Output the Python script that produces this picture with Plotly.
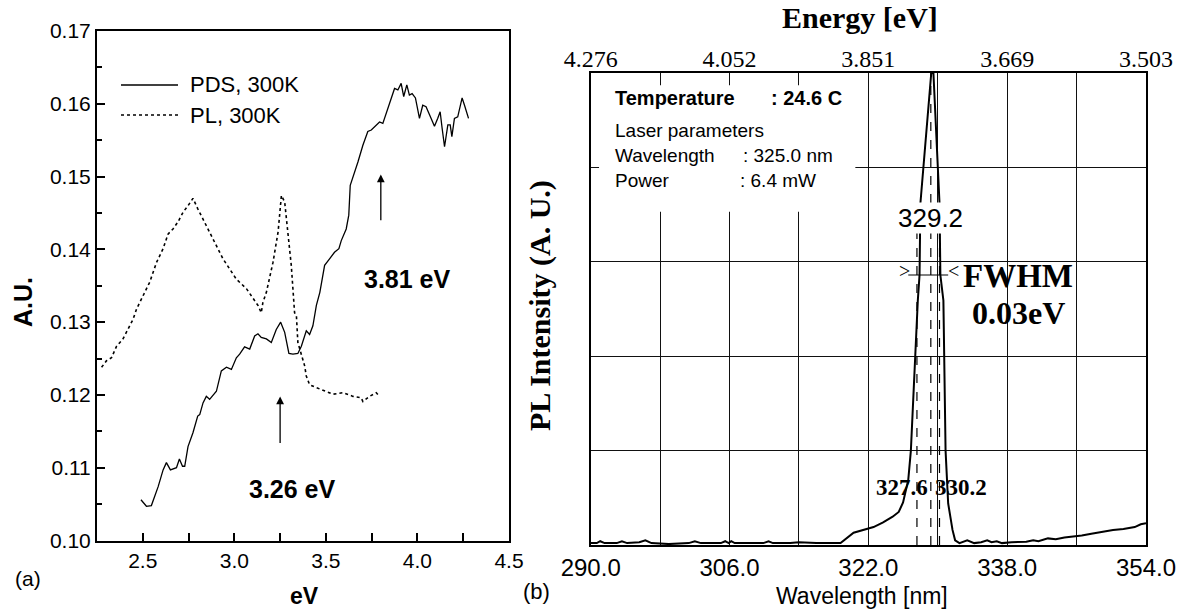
import plotly.graph_objects as go

# ---------------- Panel (a) data ----------------
pds_ev = [2.49, 2.52, 2.547, 2.584, 2.611, 2.629, 2.651, 2.684, 2.70, 2.717, 2.729, 2.747, 2.774,
          2.80, 2.811, 2.829, 2.847, 2.865, 2.902, 2.929, 2.957, 2.984, 3.011, 3.029, 3.056, 3.084,
          3.111, 3.129, 3.147, 3.175, 3.202, 3.229, 3.253, 3.275, 3.298, 3.320, 3.347, 3.366, 3.393,
          3.411, 3.429, 3.448, 3.467, 3.493, 3.520, 3.547, 3.571, 3.584, 3.611, 3.625, 3.633, 3.657,
          3.675, 3.702, 3.729, 3.748, 3.775, 3.793, 3.811, 3.829, 3.857, 3.875, 3.893, 3.911, 3.925,
          3.942, 3.956, 3.971, 3.989, 4.011, 4.029, 4.047, 4.066, 4.093, 4.111, 4.124, 4.135, 4.148,
          4.166, 4.179, 4.188, 4.202, 4.22, 4.244, 4.257, 4.279]
pds_au = [0.1056, 0.1047, 0.1048, 0.1074, 0.1097, 0.1107, 0.1097, 0.1100, 0.1112, 0.1102, 0.1102,
          0.1129, 0.1148, 0.1171, 0.1173, 0.1189, 0.1198, 0.1194, 0.1205, 0.1233, 0.1238, 0.1235,
          0.1251, 0.1256, 0.1266, 0.1263, 0.1281, 0.1284, 0.1279, 0.1277, 0.1272, 0.1290, 0.1300,
          0.1286, 0.1257, 0.1256, 0.1257, 0.1267, 0.1288, 0.1283, 0.1295, 0.1323, 0.1341, 0.1378,
          0.1387, 0.1396, 0.1401, 0.1412, 0.1428, 0.1447, 0.1488, 0.1506, 0.1520, 0.1543, 0.1562,
          0.1564, 0.1571, 0.1575, 0.1573, 0.1587, 0.1608, 0.1621, 0.1619, 0.1628, 0.1610, 0.1626,
          0.1612, 0.1614, 0.1608, 0.1580, 0.1598, 0.1596, 0.1585, 0.1569, 0.1580, 0.1589, 0.1566,
          0.1541, 0.1571, 0.1571, 0.1555, 0.1580, 0.1582, 0.1608, 0.1598, 0.1580]

pl_ev = [2.275, 2.302, 2.329, 2.357, 2.392, 2.42, 2.447, 2.466, 2.502, 2.538, 2.575, 2.611, 2.638,
         2.665, 2.693, 2.72, 2.747, 2.774, 2.80, 2.829, 2.865, 2.902, 2.938, 2.975, 3.011, 3.066,
         3.102, 3.129, 3.147, 3.156, 3.175, 3.211, 3.239, 3.257, 3.275, 3.293, 3.311, 3.329, 3.339,
         3.347, 3.366, 3.384, 3.393, 3.411, 3.448, 3.493, 3.539, 3.593, 3.648, 3.693, 3.702, 3.738,
         3.775, 3.793]
pl_au = [0.1238, 0.1247, 0.1251, 0.1267, 0.1277, 0.1290, 0.1304, 0.1318, 0.1336, 0.1355, 0.1382,
         0.1401, 0.1421, 0.1428, 0.1438, 0.1451, 0.1460, 0.1470, 0.1456, 0.1442, 0.1424, 0.1405,
         0.1387, 0.1373, 0.1359, 0.1346, 0.1332, 0.1323, 0.1313, 0.1327, 0.1341, 0.1382, 0.1424,
         0.1474, 0.1465, 0.1424, 0.1378, 0.1313, 0.1309, 0.1272, 0.1254, 0.1240, 0.1226, 0.1214,
         0.1210, 0.1205, 0.1201, 0.1203, 0.1198, 0.1196, 0.1191, 0.1198, 0.1203, 0.1198]

a_xrange = [2.25, 4.5]
a_yrange = [0.10, 0.17]
a_xticks = [2.5, 3.0, 3.5, 4.0, 4.5]
a_xminor = [2.75, 3.25, 3.75, 4.25]
a_yticks = [0.10, 0.11, 0.12, 0.13, 0.14, 0.15, 0.16, 0.17]
a_yminor = [0.105, 0.115, 0.125, 0.135, 0.145, 0.155, 0.165]

# ---------------- Panel (b) data ----------------
wl_nm = [290.0, 290.7, 291.1, 291.6, 293.0, 293.6, 294.2, 295.6, 296.3, 297.0, 299.0, 301.3, 302.0,
         302.7, 305.0, 305.5, 305.9, 306.2, 306.6, 309.9, 310.5, 311.0, 313.0, 314.0, 316.0, 318.0,
         318.8, 320.3, 321.9, 322.6, 323.7, 324.8, 325.5, 325.9, 326.0, 326.6, 326.9, 327.7, 327.9,
         328.0, 329.25, 329.5, 330.2, 330.3, 330.65, 330.9, 331.2, 331.7, 332.0, 332.5, 333.4, 334.2,
         335.0, 335.7, 336.2, 336.8, 337.4, 338.5, 339.3, 340.2, 341.0, 341.6, 342.7, 343.6, 344.6,
         345.7, 346.6, 347.7, 348.8, 350.2, 351.4, 352.7, 353.4, 354.0]
pl_int = [0.02, 0.02, 0.04, 0.02, 0.02, 0.04, 0.02, 0.03, 0.05, 0.02, 0.01, 0.02, 0.04,
          0.02, 0.02, 0.04, 0.02, 0.04, 0.02, 0.02, 0.04, 0.02, 0.02, 0.03, 0.02, 0.02,
          0.02, 0.13, 0.17, 0.19, 0.24, 0.30, 0.35, 0.44, 0.45, 0.69, 1.0, 2.59, 2.86,
          3.62, 5.0, 5.0, 3.62, 2.86, 2.59, 1.0, 0.44, 0.16, 0.05, 0.02, 0.05, 0.02,
          0.03, 0.05, 0.03, 0.04, 0.02, 0.03, 0.03, 0.035, 0.05, 0.04, 0.07, 0.06, 0.08,
          0.09, 0.10, 0.12, 0.14, 0.16, 0.17, 0.19, 0.22, 0.23]

b_xticks = [290, 306, 322, 338, 354]
b_xticktext = ["290.0", "306.0", "322.0", "338.0", "354.0"]
energy_ticktext = ["4.276", "4.052", "3.851", "3.669", "3.503"]
fwhm_marks = [327.6, 329.2, 330.2]
peak_nm = 329.2

SERIF = "Liberation Serif, Times New Roman, serif"
SANS = "Liberation Sans, Arial, sans-serif"

W, H = 1190, 611


def px(x):
    return x / W


def py(y):
    return (H - y) / H


A_X0, A_X1, A_Y0, A_Y1 = 97, 509, 540.5, 31   # panel (a) plot area in pixels
a_xdom = [px(A_X0), px(A_X1)]
a_ydom = [py(A_Y0), py(A_Y1)]

fig = go.Figure()

fig.add_trace(go.Scatter(x=pds_ev, y=pds_au, mode="lines", name="PDS, 300K",
                         line=dict(color="black", width=1.3), xaxis="x", yaxis="y",
                         showlegend=False))
fig.add_trace(go.Scatter(x=pl_ev, y=pl_au, mode="lines", name="PL, 300K",
                         line=dict(color="black", width=1.6, dash="dot"), xaxis="x", yaxis="y",
                         showlegend=False))
fig.add_trace(go.Scatter(x=wl_nm, y=pl_int, mode="lines", name="PL",
                         line=dict(color="black", width=2), xaxis="x2", yaxis="y2",
                         showlegend=False))
# same spectrum attached to the energy (top) axis so that axis is drawn
fig.add_trace(go.Scatter(x=wl_nm, y=pl_int, mode="lines", name="PL (energy axis)",
                         line=dict(color="rgba(0,0,0,0)", width=0), xaxis="x3", yaxis="y2",
                         showlegend=False, hoverinfo="skip"))

GRID = "#111111"

fig.update_layout(
    template="none",
    width=W, height=H, margin=dict(l=0, r=0, t=0, b=0, autoexpand=False),
    paper_bgcolor="white", plot_bgcolor="white", showlegend=False,
    xaxis=dict(domain=a_xdom, range=a_xrange, tickvals=a_xticks,
               ticktext=["%.1f" % v for v in a_xticks],
               ticks="inside", ticklen=8, tickwidth=1.5, tickcolor="black",
               minor=dict(tickvals=a_xminor, ticks="inside", ticklen=8, tickwidth=1.5,
                          tickcolor="black"),
               showline=True, linecolor="black", linewidth=2, mirror=True,
               showgrid=False, zeroline=False, automargin=False,
               tickfont=dict(family=SANS, size=21, color="black"), anchor="y"),
    yaxis=dict(domain=a_ydom, range=a_yrange, tickvals=a_yticks,
               ticktext=["%.2f" % v for v in a_yticks],
               ticks="inside", ticklen=8, tickwidth=1.5, tickcolor="black",
               minor=dict(tickvals=a_yminor, ticks="inside", ticklen=5, tickwidth=1.5,
                          tickcolor="black"),
               showline=True, linecolor="black", linewidth=2, mirror=True,
               showgrid=False, zeroline=False, automargin=False,
               tickfont=dict(family=SANS, size=21, color="black"), anchor="x"),
    xaxis2=dict(domain=[px(590.7), px(1146)], range=[290, 354], tickvals=b_xticks,
                ticktext=b_xticktext, ticks="", showgrid=True, gridcolor=GRID, gridwidth=1.2,
                minor=dict(dtick=8, tick0=290, showgrid=True, gridcolor=GRID, gridwidth=1.2),
                showline=True, linecolor="black", linewidth=1.8, mirror=True, zeroline=False,
                automargin=False,
                tickfont=dict(family=SANS, size=24, color="black"), anchor="y2"),
    yaxis2=dict(domain=[py(545), py(73)], range=[0, 5], dtick=1, showticklabels=False,
                ticks="", showgrid=True, gridcolor=GRID, gridwidth=1.2,
                showline=True, linecolor="black", linewidth=1.8, mirror=True, zeroline=False,
                automargin=False, anchor="x2"),
    xaxis3=dict(overlaying="x2", side="top", range=[290, 354], tickvals=b_xticks,
                ticktext=energy_ticktext, ticks="", showgrid=False, showline=False,
                zeroline=False, anchor="y2", automargin=False,
                tickfont=dict(family=SERIF, size=24, color="black")),
)

shapes = []
# white info box hiding grid lines behind the parameter text
shapes.append(dict(type="rect", xref="x2", yref="y2", x0=290.96, x1=320.5, y0=3.53, y1=4.87,
                   fillcolor="white", line=dict(width=0), layer="above"))
# FWHM dashed markers
for m in fwhm_marks:
    top = 5.0 if m == peak_nm else 3.4
    shapes.append(dict(type="line", xref="x2", yref="y2", x0=m, x1=m, y0=0, y1=top,
                       line=dict(color="black", width=1.2, dash="dash"), layer="above"))
# FWHM horizontal bar
shapes.append(dict(type="line", xref="x2", yref="y2", x0=326.6, x1=331.2, y0=2.86, y1=2.86,
                   line=dict(color="black", width=1.2), layer="above"))
# legend samples for panel (a)
shapes.append(dict(type="line", xref="paper", yref="paper", x0=px(121), x1=px(178),
                   y0=py(85), y1=py(85), line=dict(color="black", width=1.3)))
shapes.append(dict(type="line", xref="paper", yref="paper", x0=px(121), x1=px(178),
                   y0=py(115), y1=py(115), line=dict(color="black", width=1.6, dash="dot")))
fig.update_layout(shapes=shapes)

ann = []


def text(x, y, s, size, family=SANS, bold=False, xref="paper", yref="paper",
         xanchor="center", yanchor="middle", angle=0, bg=None):
    d = dict(x=x, y=y, xref=xref, yref=yref, text=("<b>%s</b>" % s) if bold else s,
             showarrow=False, xanchor=xanchor, yanchor=yanchor, textangle=angle,
             font=dict(family=family, size=size, color="black"))
    if bg:
        d["bgcolor"] = bg
        d["borderpad"] = 0
    ann.append(d)


# Panel (a)
text(px(188), py(85), "PDS, 300K", 22, xanchor="left")
text(px(188), py(115), "PL, 300K", 22, xanchor="left")
text(3.943, 0.1359, "3.81 eV", 25, bold=True, xref="x", yref="y")
text(3.316, 0.1071, "3.26 eV", 25, bold=True, xref="x", yref="y")
ann.append(dict(x=3.80, y=0.1503, ax=3.80, ay=0.1438, xref="x", yref="y", axref="x", ayref="y",
                text="", showarrow=True, arrowhead=2, arrowsize=1.2, arrowwidth=1.3,
                arrowcolor="black"))
ann.append(dict(x=3.25, y=0.1198, ax=3.25, ay=0.1132, xref="x", yref="y", axref="x", ayref="y",
                text="", showarrow=True, arrowhead=2, arrowsize=1.2, arrowwidth=1.3,
                arrowcolor="black"))
text(px(23), py(302), "A.U.", 25, bold=True, angle=-90)
text(px(304), py(611), "eV", 23, bold=True, yanchor="bottom")
text(px(28), py(578), "(a)", 21)

# Panel (b)
text(px(860), py(18), "Energy [eV]", 30, family=SERIF, bold=True)
text(px(540), py(306), "PL Intensity (A. U.)", 30, family=SERIF, bold=True, angle=-90)
text(px(862), py(611), "Wavelength [nm]", 23, yanchor="bottom")
text(px(536), py(591), "(b)", 22)

text(292.57, 4.735, "Temperature", 20, bold=True, xref="x2", yref="y2", xanchor="left")
text(310.57, 4.735, ": 24.6 C", 20, bold=True, xref="x2", yref="y2", xanchor="left")
text(292.57, 4.386, "Laser parameters", 19, xref="x2", yref="y2", xanchor="left")
text(292.57, 4.131, "Wavelength", 19, xref="x2", yref="y2", xanchor="left")
text(307.3, 4.131, ": 325.0 nm", 19, xref="x2", yref="y2", xanchor="left")
text(292.57, 3.856, "Power", 19, xref="x2", yref="y2", xanchor="left")
text(307.0, 3.856, ": 6.4 mW", 19, xref="x2", yref="y2", xanchor="left")

text(peak_nm, 3.46, "%.1f" % peak_nm, 26, xref="x2", yref="y2", bg="white")
text(325.86, 0.614, "%.1f" % fwhm_marks[0], 23, family=SERIF, bold=True, xref="x2", yref="y2")
text(332.73, 0.614, "%.1f" % fwhm_marks[2], 23, family=SERIF, bold=True, xref="x2", yref="y2")
text(326.15, 2.9, "&gt;", 20, family=SERIF, xref="x2", yref="y2")
text(331.8, 2.9, "&lt;", 20, family=SERIF, xref="x2", yref="y2")
text(339.25, 2.85, "FWHM", 33, family=SERIF, bold=True, xref="x2", yref="y2")
text(339.3, 2.46, "0.03eV", 32, family=SERIF, bold=True, xref="x2", yref="y2")

fig.update_layout(annotations=ann)

fig.write_html("out.html")
